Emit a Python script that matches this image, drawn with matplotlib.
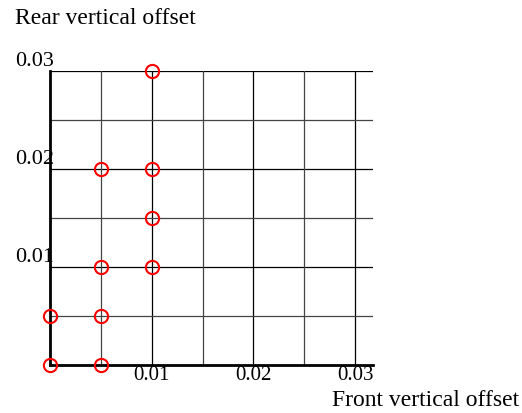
import matplotlib
matplotlib.use("Agg")
import matplotlib.pyplot as plt

front = [0.0, 0.005, 0.0, 0.005, 0.005, 0.01, 0.01, 0.005, 0.01, 0.01]
rear = [0.0, 0.0, 0.005, 0.005, 0.01, 0.01, 0.015, 0.02, 0.02, 0.03]
major_ticks = [0.01, 0.02, 0.03]
tick_labels = ["0.01", "0.02", "0.03"]
minor_grid = [0.005, 0.015, 0.025]

plt.rcParams['font.family'] = ['Liberation Serif', 'DejaVu Serif']

fig = plt.figure(figsize=(5.22, 4.13), dpi=100)
x0, x1 = 50, 373
ax = fig.add_axes([x0/522, (413-365)/413, (x1-x0)/522, (365-71)/413])
ax.set_xlim(0, 0.03 * (x1 - x0) / (355 - x0))
ax.set_ylim(0, 0.03)

for v in major_ticks:
    ax.axvline(v, color='black', lw=0.9, zorder=1)
    ax.axhline(v, color='black', lw=0.9, zorder=1)
for v in minor_grid:
    ax.axvline(v, color='#444444', lw=0.9, zorder=1)
    ax.axhline(v, color='#444444', lw=0.9, zorder=1)

ax.plot(front, rear, linestyle='none', marker='o', markersize=9.5,
        markerfacecolor='none', markeredgecolor='red', markeredgewidth=1.5,
        clip_on=False, zorder=5)

for s in ['top', 'right']:
    ax.spines[s].set_visible(False)
for s in ['left', 'bottom']:
    ax.spines[s].set_linewidth(2)
    ax.spines[s].set_color('black')

ax.set_xticks(major_ticks)
ax.set_xticklabels(tick_labels, fontsize=15)
ax.set_yticks(major_ticks)
ax.set_yticklabels(tick_labels, fontsize=16)
ax.tick_params(axis='both', length=0)
ax.tick_params(axis='x', pad=1)
ax.tick_params(axis='y', pad=-3)
for t in ax.get_yticklabels():
    t.set_verticalalignment('bottom')

fig.text(15/522, 1 - 19/413, "Rear vertical offset", fontsize=17, ha='left', va='center')
fig.text(519/522, 1 - 401/413, "Front vertical offset", fontsize=17, ha='right', va='center')

fig.savefig("out.png", dpi=100)
